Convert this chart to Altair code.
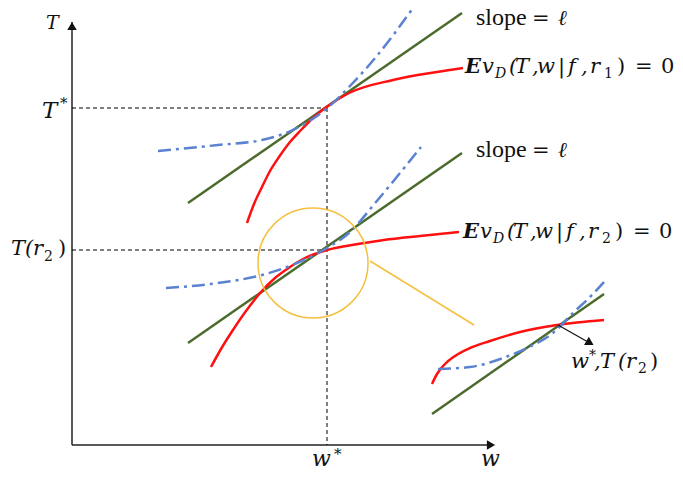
import altair as alt
import pandas as pd

# ---- diagram data (w, T in picture units; T grows downward) ----
axisT_w = [72, 72];   axisT_T = [445, 22]
axisW_w = [72, 492];  axisW_T = [445, 445]

dashH1_w = [72, 327]; dashH1_T = [108, 108]
dashH2_w = [72, 327]; dashH2_T = [250, 250]
dashV_w = [327, 327]; dashV_T = [108, 445]

green1_w = [188, 462]; green1_T = [203, 13]
red1_w = [247, 254, 262, 270, 279, 290, 301, 313, 325, 349, 393, 437, 463]
red1_T = [223, 204, 187, 171, 157, 142, 130, 118, 108, 93, 80, 72, 68]
blue1_w = [158, 218, 262, 297, 325, 349, 376, 413]
blue1_T = [151, 145, 140, 128, 110, 87, 57, 8]

green2_w = [188, 462]; green2_T = [343, 153]
red2_w = [211, 221, 231, 246, 261, 275, 290, 305, 327, 358, 384, 420, 459]
red2_T = [367, 349, 333, 311, 292, 278, 267, 258, 250, 244, 240, 236, 232]
blue2_w = [166, 218, 262, 297, 327, 349, 376, 421]
blue2_T = [288, 283, 275, 263, 248, 233, 202, 147]

green3_w = [432, 604]; green3_T = [414, 294]
red3_w = [432, 437, 445, 455, 470, 490, 520, 557, 604]
red3_T = [384, 374, 364, 356, 348, 341, 332, 325, 320]
blue3_w = [438, 470, 503, 527, 553, 573, 590, 604]
blue3_T = [369, 367, 358, 348, 333, 313, 297, 282]

zoom_w = [370, 474]; zoom_T = [261, 325]
circle_w = [313]; circle_T = [263]
arrow_w = [558, 588]; arrow_T = [325, 342]

W0, W1, T0, T1 = 8, 675, 8, 472
xs = alt.Scale(domain=[W0, W1], nice=False, zero=False)
ys = alt.Scale(domain=[T1, T0], nice=False, zero=False)
X = lambda: alt.X("w:Q", scale=xs, axis=None)
Y = lambda: alt.Y("T:Q", scale=ys, axis=None)

def df(w, T):
    return pd.DataFrame({"w": w, "T": T})

def line(w, T, color, width=2.5, dash=None, interp="monotone"):
    kw = dict(color=color, strokeWidth=width, interpolate=interp, clip=False)
    if dash:
        kw["strokeDash"] = dash
    return alt.Chart(df(w, T)).mark_line(**kw).encode(x=X(), y=Y(), order="w:Q")

GREEN = "#4B6B2C"
RED = "#FF1010"
BLUE = "#5B82D0"
YEL = "#F5C040"
DD = [13, 5, 3, 5]

layers = [
    line(axisT_w, axisT_T, "#222", 1.5, interp="linear"),
    line(axisW_w, axisW_T, "#222", 1.5, interp="linear"),
    line(dashH1_w, dashH1_T, "#000", 1, [4, 3], "linear"),
    line(dashH2_w, dashH2_T, "#000", 1, [4, 3], "linear"),
    alt.Chart(df(dashV_w, dashV_T)).mark_rule(color="#000", strokeWidth=1, strokeDash=[4, 3]).encode(
        x=X(), y=alt.Y("min(T):Q", scale=ys, axis=None), y2="max(T):Q"),
    line(green1_w, green1_T, GREEN, 2.5, interp="linear"),
    line(red1_w, red1_T, RED, 2.5),
    line(blue1_w, blue1_T, BLUE, 2.5, DD),
    line(green2_w, green2_T, GREEN, 2.5, interp="linear"),
    line(red2_w, red2_T, RED, 2.5),
    line(blue2_w, blue2_T, BLUE, 2.5, DD),
    line(green3_w, green3_T, GREEN, 2.5, interp="linear"),
    line(red3_w, red3_T, RED, 2.5),
    line(blue3_w, blue3_T, BLUE, 2.5, DD),
    line(zoom_w, zoom_T, YEL, 1.5, interp="linear"),
    alt.Chart(df(circle_w, circle_T)).mark_point(
        shape="circle", filled=False, size=110 ** 2, color=YEL, strokeWidth=1.5, opacity=1
    ).encode(x=X(), y=Y()),
    line(arrow_w, arrow_T, "#111", 1.2, interp="linear"),
    # arrow heads
    alt.Chart(df([72], [26])).mark_point(shape="triangle-up", filled=True, size=90, color="#111", opacity=1).encode(x=X(), y=Y()),
    alt.Chart(df([491], [445])).mark_point(shape="triangle-right", filled=True, size=90, color="#111", opacity=1).encode(x=X(), y=Y()),
    alt.Chart(df([590], [343])).mark_point(shape="triangle-right", filled=True, size=90, color="#111", opacity=1, angle=30).encode(x=X(), y=Y()),
]

# ---- text pieces (text, left, baseline, size) ----
MATH = "DejaVu Serif"
TEXT = "Liberation Serif"
cols = ["t", "w", "T", "s"]
S = 21

def ev_label(x0, base, sub2):
    ital = [("v", x0 + 17, base, S), ("(", x0 + 44, base, S), ("T", x0 + 50, base, S),
            (",", x0 + 67, base, S), ("w", x0 + 72, base, S), ("|", x0 + 93, base, S),
            ("f", x0 + 103, base, S), (",", x0 + 116, base, S), ("r", x0 + 125, base, S),
            ("D", x0 + 30, base + 5, 14)]
    reg = [(sub2, x0 + 139, base + 5, 14), (")", x0 + 152, base, S),
           ("=", x0 + 170, base, S), ("0", x0 + 196, base, S)]
    bold = [("E", x0, base, S)]
    return ital, reg, bold

ev1 = ev_label(465, 73, "1")
ev2 = ev_label(463, 238, "2")

ital = pd.DataFrame([
    ("T", 46, 29, 19),
    ("T", 42, 118, 23),
    ("T", 11, 255, 21), ("(", 25, 255, 21), ("r", 33, 255, 21),
    ("w", 312, 466, 22),
    ("w", 481, 466, 22),
    ("ℓ", 558, 25, 21), ("ℓ", 558, 157, 21),
    ("w", 571, 368, 21), (",", 594, 368, 21), ("T", 600, 368, 21), ("(", 618, 368, 21), ("r", 626, 368, 21),
] + ev1[0] + ev2[0], columns=cols)
reg = pd.DataFrame([
    ("*", 60, 108, 15),
    ("2", 44, 261, 14),
    (")", 58, 255, 21),
    ("*", 334, 459, 15),
    ("=", 532, 25, 21), ("=", 532, 157, 21),
    ("*", 589, 360, 14), ("2", 638, 373, 14), (")", 650, 368, 21),
] + ev1[1] + ev2[1], columns=cols)
bold = pd.DataFrame(ev1[2] + ev2[2], columns=cols)
plain = pd.DataFrame([("slope", 476, 25, 24), ("slope", 476, 157, 24)], columns=cols)

def texts(d, font, style="normal", weight="normal"):
    return alt.Chart(d).mark_text(
        font=font, fontStyle=style, fontWeight=weight, align="left", baseline="alphabetic", color="#111"
    ).encode(x=X(), y=Y(), text="t:N", size=alt.Size("s:Q", scale=None, legend=None))

layers += [texts(ital, MATH, "italic"), texts(reg, MATH), texts(bold, MATH, "italic", "bold"),
           texts(plain, TEXT)]

chart = alt.layer(*layers).properties(
    width=W1 - W0, height=T1 - T0, padding=0, autosize=alt.AutoSizeParams(type="none")
).configure_view(stroke=None)

chart.save("out.html", embed_options={"renderer": "svg", "actions": False})
